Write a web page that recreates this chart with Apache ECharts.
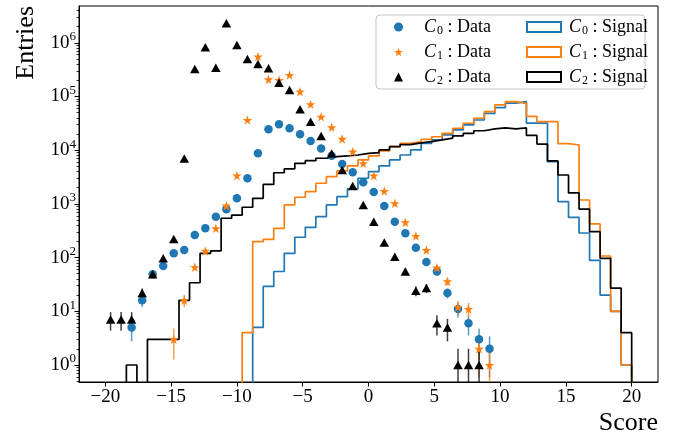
<!DOCTYPE html>
<html>
<head>
<meta charset="utf-8">
<script src="https://cdn.jsdelivr.net/npm/echarts@6/dist/echarts.min.js"></script>
<style>html,body{margin:0;padding:0;background:#fff}#c{width:686px;height:441px}</style>
</head>
<body>
<div id="c"></div>
<script>
const binEdges = [-20,-19.2,-18.4,-17.6,-16.8,-16,-15.2,-14.4,-13.6,-12.8,-12,-11.2,-10.4,-9.6,-8.8,-8,-7.2,-6.4,-5.6,-4.8,-4,-3.2,-2.4,-1.6,-0.8,0,0.8,1.6,2.4,3.2,4,4.8,5.6,6.4,7.2,8,8.8,9.6,10.4,11.2,12,12.8,13.6,14.4,15.2,16,16.8,17.6,18.4,19.2,20];
const binCenters = [-19.6,-18.8,-18,-17.2,-16.4,-15.6,-14.8,-14,-13.2,-12.4,-11.6,-10.8,-10,-9.2,-8.4,-7.6,-6.8,-6,-5.2,-4.4,-3.6,-2.8,-2,-1.2,-0.4,0.4,1.2,2,2.8,3.6,4.4,5.2,6,6.8,7.6,8.4,9.2,10,10.8,11.6,12.4,13.2,14,14.8,15.6,16.4,17.2,18,18.8,19.6];

const c0Signal = [0,0,0,0,0,0,0,0,0,0,0,0,0,0,5,29,55,120,239,366,578,955,1360,1900,3000,3990,5100,6570,8130,10100,13400,15500,19200,23800,29500,36500,48600,62000,75000,80000,31800,31800,6100,1100,560,287,89,20,10,1];
const c1Signal = [0,0,0,0,0,0,0,0,0,0,0,0,0,4,198,219,351,955,1330,1690,2420,3210,4100,5080,6570,7800,9700,11600,13400,14400,15900,17800,20600,25600,31700,39300,52100,69500,80000,74000,42500,34000,34000,13200,12500,1180,423,107,10,1];
const c2Signal = [0,0,1,0,3,3,3,16,34,120,133,540,620,865,1270,2300,3800,4500,5700,6380,7070,7570,7800,8130,8750,8980,10100,11600,12700,13700,14400,15500,16800,18500,20500,23000,25000,26000,25000,26000,18800,13000,6300,3450,1600,800,304,97,27,4];

const c0Data = [0,0,5,16,49,70,120,138,263,351,578,794,1270,3000,8750,24500,30400,25600,19800,14800,10700,7900,5530,3870,2520,1660,914,466,283,153,83,55,22,11,6,3,2,0,0,0,0,0,0,0,0,0,0,0,0,0];
const c1Data = [0,0,0,0,0,0,3,16,66,133,351,926,3350,36500,552000,209000,203000,251000,123000,71600,42000,26700,16200,9380,5700,3350,1740,1025,454,252,138,65,36,12,11,2,1,0,0,0,0,0,0,0,0,0,0,0,0,0];
const c2Data = [7,7,7,22,49,97,222,7000,325000,825000,344000,2300000,910000,499000,403000,335000,181000,132000,58000,34000,18400,8700,4280,2150,955,466,190,104,55,24,27,6,5,1,1,1,0,0,0,0,0,0,0,0,0,0,0,0,0,0];

const xTicks = [-20,-15,-10,-5,0,5,10,15,20];
const yTicks = [1,10,100,1000,10000,100000,1000000];
const yMinorTicks = [0.5,0.6,0.7,0.8,0.9,2,3,4,5,6,7,8,9,20,30,40,50,60,70,80,90,200,300,400,500,600,700,800,900,2000,3000,4000,5000,6000,7000,8000,9000,20000,30000,40000,50000,60000,70000,80000,90000,200000,300000,400000,500000,600000,700000,800000,900000,2000000,3000000,4000000];

const FONT = 'Liberation Serif';
const FLOOR = 0.01;
const COLORS = ['#1f77b4', '#ff7f0e', '#000000'];
const STAR = 'path://M50,0 L61.8,35.3 L98.1,35.3 L68.7,57.1 L79.4,91.3 L50,70.6 L20.6,91.3 L31.3,57.1 L1.9,35.3 L38.2,35.3 Z';

function stepData(vals) {
  const pts = [[binEdges[0], FLOOR]];
  for (let i = 0; i < vals.length; i++) pts.push([binEdges[i], vals[i] > 0 ? vals[i] : FLOOR]);
  const last = vals[vals.length - 1];
  pts.push([binEdges[vals.length], last > 0 ? last : FLOOR]);
  pts.push([binEdges[vals.length], FLOOR]);
  return pts;
}
function pointData(vals) {
  const out = [];
  vals.forEach((v, i) => { if (v > 0) out.push([binCenters[i], v]); });
  return out;
}
function errData(vals) {
  const out = [];
  vals.forEach((v, i) => {
    if (v > 0) { const e = Math.sqrt(v); out.push([binCenters[i], Math.max(v - e, FLOOR), v + e]); }
  });
  return out;
}
function histSeries(name, vals, color) {
  return { name, type: 'line', step: 'end', data: stepData(vals), showSymbol: false, symbol: 'none',
    lineStyle: { color, width: 1.7 }, itemStyle: { color }, z: 2, silent: true, animation: false };
}
function errSeries(vals, color) {
  return { type: 'custom', data: errData(vals), clip: true, z: 3, silent: true,
    encode: { x: 0, y: [1, 2] },
    renderItem: function (params, api) {
      const p1 = api.coord([api.value(0), api.value(1)]);
      const p2 = api.coord([api.value(0), api.value(2)]);
      return { type: 'line', shape: { x1: p1[0], y1: p1[1], x2: p2[0], y2: p2[1] },
        style: { stroke: color, lineWidth: 1.5, opacity: 0.75 } };
    } };
}
function dataSeries(name, vals, color, symbol, size) {
  return { name, type: 'scatter', data: pointData(vals), symbol, symbolSize: size,
    itemStyle: { color, opacity: 1 }, z: 4, silent: true, animation: false };
}
function richName(name) {
  const m = name.match(/C(\d) : (\w+)/);
  return '{c|C}{s|' + m[1] + '}{t| : ' + m[2] + '}';
}
function supLabel(v) {
  const e = Math.round(Math.log10(v));
  if (Math.abs(Math.log10(v) - e) > 1e-6) return '';
  return '{b|10}{s|' + e + '}';
}

const legendRich = (padLeft) => ({
  c: { fontFamily: FONT, fontSize: 18, fontStyle: 'italic', lineHeight: 20, padding: [0, 0, 0, padLeft] },
  s: { fontFamily: FONT, fontSize: 12, lineHeight: 12, verticalAlign: 'bottom', padding: [0, 0, 0, 1] },
  t: { fontFamily: FONT, fontSize: 18, lineHeight: 20 }
});

const chart = echarts.init(document.getElementById('c'), null, { renderer: 'canvas' });
chart.setOption({
  animation: false,
  backgroundColor: '#fff',
  grid: { left: 79, top: 6, width: 579, height: 376, show: true, borderColor: '#000', borderWidth: 1, backgroundColor: 'transparent' },
  legend: [
    {
      left: 376, top: 15, orient: 'vertical', itemWidth: 9, itemHeight: 9, itemGap: 6,
      padding: [3, 154, 2, 18], backgroundColor: 'rgba(255,255,255,0.8)', borderColor: '#c4c4c4', borderWidth: 1, borderRadius: 4,
      selectedMode: false, z: 10,
      textStyle: { color: '#000', fontFamily: FONT, fontSize: 18, rich: legendRich(16) },
      formatter: richName,
      data: ['C0 : Data', 'C1 : Data', 'C2 : Data']
    },
    {
      left: 526, top: 18, orient: 'vertical', itemWidth: 34, itemHeight: 10, itemGap: 6,
      padding: 0, selectedMode: false, z: 11,
      textStyle: { color: '#000', fontFamily: FONT, fontSize: 18, rich: legendRich(3) },
      formatter: richName,
      data: [0, 1, 2].map(i => ({ name: 'C' + i + ' : Signal', icon: 'rect',
        itemStyle: { color: '#ffffff', borderColor: COLORS[i], borderWidth: 2 } }))
    }
  ],
  xAxis: {
    type: 'value', min: -22, max: 22,
    name: 'Score', nameLocation: 'end', nameGap: 0, nameMoveOverlap: false,
    nameTextStyle: { fontFamily: FONT, fontSize: 26, color: '#000', align: 'right', verticalAlign: 'top', padding: [28, 0, 0, 0] },
    axisLine: { show: true, onZero: false, lineStyle: { color: '#000', width: 1 } },
    axisTick: { show: true, length: 4.5, customValues: xTicks, lineStyle: { color: '#000', width: 1 } },
    axisLabel: { customValues: xTicks, margin: 6, fontFamily: FONT, fontSize: 19, color: '#000',
      formatter: v => String(v).replace('-', '\u2212') },
    splitLine: { show: false }
  },
  yAxis: [
    {
      type: 'log', logBase: 10, min: 0.482, max: 4.84e6,
      name: 'Entries', nameLocation: 'end', nameGap: 0, nameRotate: 90, nameMoveOverlap: false,
      nameTextStyle: { fontFamily: FONT, fontSize: 26, color: '#000', align: 'right', verticalAlign: 'bottom', padding: [0, 0, 40, 0] },
      axisLine: { show: true, onZero: false, lineStyle: { color: '#000', width: 1 } },
      axisTick: { show: true, length: 4.5, customValues: yTicks, lineStyle: { color: '#000', width: 1 } },
      axisLabel: { customValues: yTicks, margin: 3, color: '#000', formatter: supLabel,
        rich: { b: { fontFamily: FONT, fontSize: 19, lineHeight: 25 }, s: { fontFamily: FONT, fontSize: 13, lineHeight: 13, verticalAlign: 'top' } } },
      splitLine: { show: false }, minorTick: { show: false }
    },
    {
      type: 'log', logBase: 10, min: 0.482, max: 4.84e6, position: 'left',
      axisLine: { show: false, onZero: false },
      axisTick: { show: true, length: 2.5, customValues: yMinorTicks, lineStyle: { color: '#000', width: 0.8 } },
      axisLabel: { show: false }, splitLine: { show: false }
    }
  ],
  series: [
    histSeries('C0 : Signal', c0Signal, COLORS[0]),
    histSeries('C1 : Signal', c1Signal, COLORS[1]),
    histSeries('C2 : Signal', c2Signal, COLORS[2]),
    errSeries(c0Data, COLORS[0]),
    errSeries(c1Data, COLORS[1]),
    errSeries(c2Data, COLORS[2]),
    dataSeries('C0 : Data', c0Data, COLORS[0], 'circle', 8.5),
    dataSeries('C1 : Data', c1Data, COLORS[1], STAR, 9.5),
    dataSeries('C2 : Data', c2Data, COLORS[2], 'triangle', [9.5, 8.5])
  ]
});
</script>
</body>
</html>
